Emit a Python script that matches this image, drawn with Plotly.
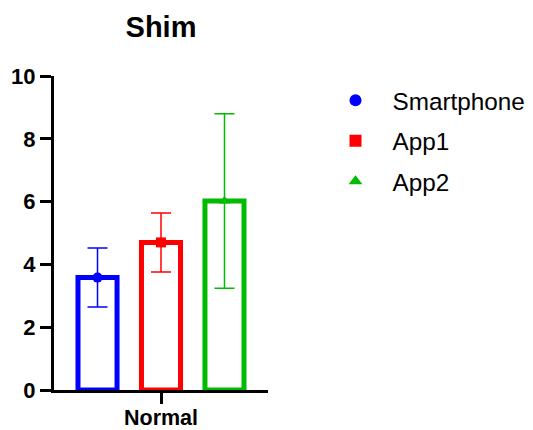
import plotly.graph_objects as go

categories = ["Normal"]
series = ["Smartphone", "App1", "App2"]
means = [3.58, 4.70, 6.02]
sds = [0.94, 0.94, 2.78]
colors = ["#0000FF", "#FF0000", "#00BB00"]
symbols = ["circle", "square", "triangle-up"]
yticks = [0, 2, 4, 6, 8, 10]

FONT = "Liberation Sans, Arial"

fig = go.Figure()
for i, name in enumerate(series):
    fig.add_trace(go.Bar(
        x=categories, y=[means[i]], name=name, offsetgroup=str(i),
        marker=dict(color="rgba(0,0,0,0)", line=dict(color=colors[i], width=5)),
        showlegend=False, hoverinfo="skip",
    ))
for i, name in enumerate(series):
    fig.add_trace(go.Scatter(
        x=categories, y=[means[i]], name=name, offsetgroup=str(i), mode="markers",
        legendgroup=name,
        marker=dict(color=colors[i], symbol=symbols[i], size=10),
        error_y=dict(type="data", array=[sds[i]], color=colors[i], thickness=1.5, width=10),
    ))

# page body adds an 8px offset, so the figure is 8px smaller than the window
W, H = 525, 422
fig.update_layout(
    width=W, height=H,
    margin=dict(l=46, r=265, t=68, b=40, autoexpand=False),
    plot_bgcolor="white", paper_bgcolor="white",
    barmode="group", bargap=0.11, bargroupgap=0.385,
    scattermode="group", scattergap=0.11,
    title=dict(text="<b>Shim</b>", x=153 / W, xanchor="center", xref="container",
               y=1 - 19 / H, yref="container", yanchor="middle",
               font=dict(family=FONT, size=29, color="black")),
    font=dict(family=FONT, color="black"),
    legend=dict(x=1.236, y=0.994, xanchor="left", yanchor="top",
                font=dict(size=24.3, color="black", family=FONT), tracegroupgap=6,
                itemsizing="constant", itemwidth=64, borderwidth=0,
                bgcolor="rgba(0,0,0,0)"),
    showlegend=True,
)
fig.update_xaxes(showline=True, linecolor="black", linewidth=3, ticks="outside",
                 ticklen=11, tickwidth=3, tickcolor="black", automargin=False,
                 ticklabelstandoff=-5,
                 tickfont=dict(size=21.5, family=FONT, color="black"),
                 tickvals=categories, ticktext=["<b>Normal</b>"], range=[-0.5, 0.5])
fig.update_yaxes(range=[0, 10], showline=True, linecolor="black", linewidth=3,
                 ticks="outside", ticklen=11, tickwidth=3, tickcolor="black",
                 showgrid=False, zeroline=False, tickvals=yticks, automargin=False,
                 ticktext=[f"<b>{v}</b>" for v in yticks],
                 tickfont=dict(size=22, family=FONT, color="black"))

fig.write_html("out.html")
